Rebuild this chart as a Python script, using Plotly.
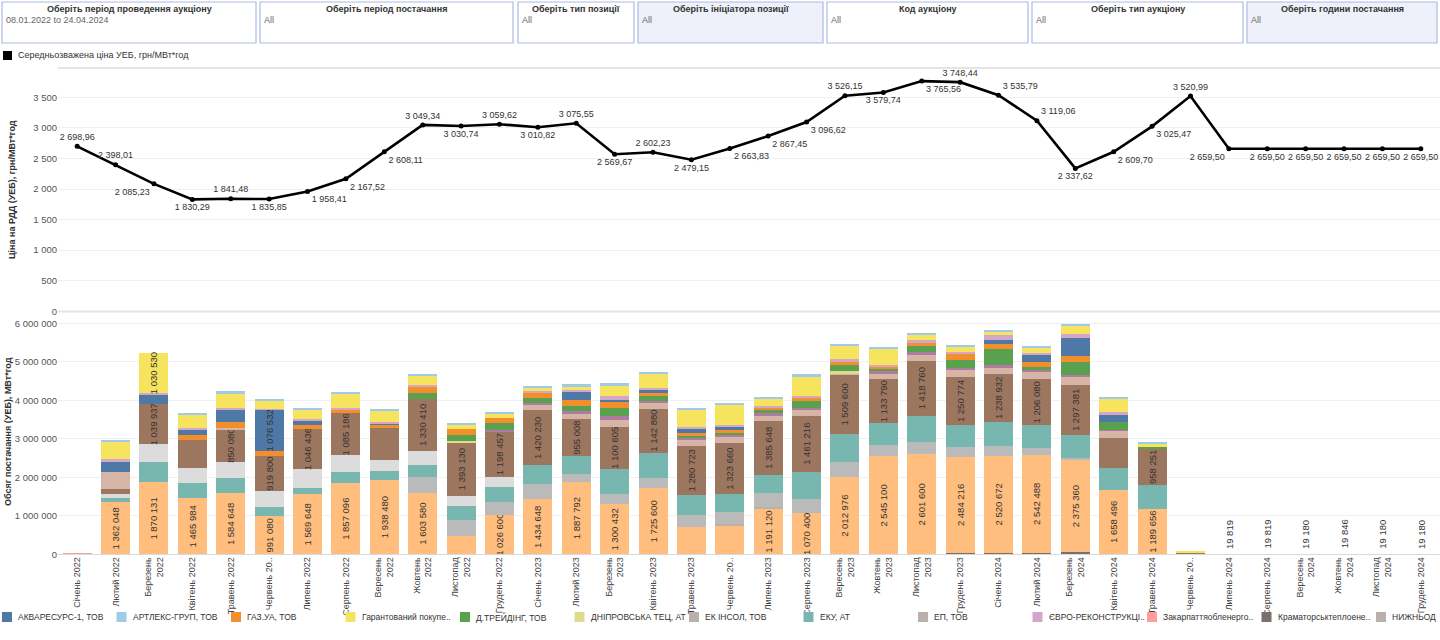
import plotly.graph_objects as go

# ---------------- data ----------------
month_names = ["Січень", "Лютий", "Березень", "Квітень", "Травень", "Червень",
               "Липень", "Серпень", "Вересень", "Жовтень", "Листопад", "Грудень"]
years = ["2022", "2023", "2024"]
months = [f"{m} {y}" for y in years for m in month_names]

tick_labels = [
    "Січень 2022", "Лютий 2022", "Березень<br>2022", "Квітень 2022", "Травень 2022", "Червень 20..",
    "Липень 2022", "Серпень 2022", "Вересень<br>2022", "Жовтень<br>2022", "Листопад<br>2022", "Грудень 2022",
    "Січень 2023", "Лютий 2023", "Березень<br>2023", "Квітень 2023", "Травень 2023", "Червень 20..",
    "Липень 2023", "Серпень 2023", "Вересень<br>2023", "Жовтень<br>2023", "Листопад<br>2023", "Грудень 2023",
    "Січень 2024", "Лютий 2024", "Березень<br>2024", "Квітень 2024", "Травень 2024", "Червень 20..",
    "Липень 2024", "Серпень 2024", "Вересень<br>2024", "Жовтень<br>2024", "Листопад<br>2024", "Грудень 2024",
]

price = [2698.96, 2398.01, 2085.23, 1830.29, 1841.48, 1835.85, 1958.41, 2167.52, 2608.11,
         3049.34, 3030.74, 3059.62, 3010.82, 3075.55, 2569.67, 2602.23, 2479.15, 2663.83,
         2867.45, 3096.62, 3526.15, 3579.74, 3765.56, 3748.44, 3535.79, 3119.06, 2337.62,
         2609.70, 3025.47, 3520.99, 2659.50, 2659.50, 2659.50, 2659.50, 2659.50, 2659.50]

# volumes, MWh (stack order bottom -> top)
vol_kramatorsk = [0]*23 + [43000, 43000, 43000, 69000, 17000] + [0]*8
vol_zakarpattia = [26000] + [0]*35
vol_peach = [0, 1362048, 1870131, 1465984, 1584648, 991080, 1569648, 1857096, 1938480, 1603580,
             480000, 1026600, 1434648, 1887792, 1300432, 1725600, 720000, 760000, 1191120, 1070400,
             2012976, 2545100, 2601600, 2484216, 2520672, 2542488, 2375360, 1658496, 1189656,
             0, 0, 0, 0, 0, 0, 0]
vol_ek_insol = [0]*17 + [35000, 43000] + [0]*17
vol_ep = [0, 0, 0, 0, 0, 0, 0, 0, 0, 400000, 415000, 346000, 398000, 190000, 277000, 268000,
          303000, 303000, 355000, 381000, 390000, 294000, 320000, 260000, 251000, 173000, 69000,
          0, 0, 0, 0, 0, 0, 0, 0, 0]
vol_eku = [0, 100000, 520000, 380000, 390000, 250000, 165000, 277000, 225000, 320000, 364000,
           372000, 485000, 476000, 640000, 650000, 520000, 468000, 485000, 693000, 736000, 571000,
           684000, 571000, 632000, 589000, 589000, 571000, 606000, 25000, 0, 0, 0, 0, 0, 0]
vol_lightgrey = [0, 120000, 470000, 390000, 425000, 400000, 476000, 440000, 295000, 372000,
                 260000, 260000] + [0]*24
vol_brown = [0, 110000, 1039937, 745000, 850080, 919800, 1046436, 1085186, 830000, 1330410,
             1393130, 1198457, 1420230, 955008, 1100605, 1142880, 1280723, 1323660, 1385648,
             1461216, 1509600, 1133790, 1418760, 1250774, 1238932, 1206080, 1297381, 788000,
             958251, 35000, 0, 0, 0, 0, 0, 0]
vol_pinkbrown = [0, 455000, 0, 0, 40000, 0, 0, 0, 0, 0, 0, 0, 156000, 165000, 173000, 156000,
                 156000, 173000, 156000, 156000, 60000, 165000, 182000, 182000, 165000, 190000,
                 208000, 182000, 0, 0, 19819, 19819, 19180, 19846, 19180, 19180]
vol_purple = [0]*11 + [35000, 35000, 43000, 95000, 35000, 43000, 35000, 43000, 43000, 0, 43000,
                       43000, 60000, 60000, 43000, 52000, 26000] + [0]*8
vol_dnipro = [0]*10 + [35000] + [0]*9 + [43000] + [0]*15
vol_dtrading = [0]*9 + [173000, 147000, 165000, 121000, 139000, 216000, 147000, 60000, 52000,
                        95000, 173000, 156000, 52000, 173000, 208000, 424000, 69000, 346000,
                        199000, 35000, 8000] + [0]*6
vol_gazua = [0, 0, 0, 120000, 140000, 120000, 112000, 120000, 60000, 173000, 156000, 140000,
             139000, 147000, 147000, 69000, 69000, 87000, 52000, 87000, 87000, 60000, 60000,
             156000, 121000, 147000, 147000] + [0]*9
vol_akvaresurs = [0, 277000, 242000, 150000, 345000, 1076532, 121000, 0, 60000, 0, 0, 0, 0,
                  225000, 60000, 95000, 121000, 87000, 0, 0, 0, 0, 0, 0, 104000, 182000,
                  476000, 208000] + [0]*8
vol_evro = [0, 50000, 52000, 25000, 35000, 25000, 26000, 26000, 26000, 35000, 0, 0, 52000,
            35000, 104000, 35000, 35000, 26000, 52000, 52000, 69000, 52000, 95000, 52000,
            139000, 52000, 87000, 43000] + [0]*8
vol_garant = [0, 460000, 1030530, 365000, 380000, 225000, 260000, 380000, 300000, 250000,
              121000, 104000, 95000, 112000, 260000, 381000, 459000, 540000, 200000, 520000,
              355000, 441000, 147000, 130000, 95000, 130000, 242000, 355000, 87000, 20000,
              0, 0, 0, 0, 0, 0]
vol_artleks = [0, 25000, 0, 25000, 40000, 35000, 35000, 43000, 26000, 26000, 35000, 52000,
               43000, 43000, 87000, 43000, 35000, 35000, 35000, 43000, 43000, 35000, 35000,
               35000, 26000, 43000, 35000, 35000, 26000] + [0]*7
vol_nyzhnodnistr = [0]*36

# ---------------- styles ----------------
FONT = "Liberation Sans, Arial, sans-serif"
W, H = 1440, 640


def px(x):
    return x / W


def py(y):
    return 1 - y / H


def fmt_int(v):
    return f"{int(round(v)):,}".replace(",", " ")


def fmt_price(v):
    return f"{v:,.2f}".replace(",", " ").replace(".", ",")


# (name, colour, values) in stack order bottom -> top
stack = [
    ("Краматорськтеплоенерго, ТОВ", "#79706e", vol_kramatorsk),
    ("Закарпаттяобленерго, ПрАТ", "#ff9d9a", vol_zakarpattia),
    ("НАЕК Енергоатом, ДП", "#ffbe7d", vol_peach),
    ("ЕК ІНСОЛ, ТОВ", "#bab0ac", vol_ek_insol),
    ("ЕП, ТОВ", "#bababa", vol_ep),
    ("ЕКУ, АТ", "#78b6b0", vol_eku),
    ("Центренерго, ПАТ", "#dcdcdc", vol_lightgrey),
    ("Укргідроенерго, ПрАТ", "#9d7660", vol_brown),
    ("Харківська ТЕЦ-5, АТ", "#d7b5a6", vol_pinkbrown),
    ("Сумська ТЕЦ, ТОВ", "#b07aa1", vol_purple),
    ("ДНІПРОВСЬКА ТЕЦ, АТ", "#dcdc8c", vol_dnipro),
    ("Д.ТРЕЙДІНГ, ТОВ", "#59a14f", vol_dtrading),
    ("ГАЗ.УА, ТОВ", "#f28e2b", vol_gazua),
    ("АКВАРЕСУРС-1, ТОВ", "#4e79a7", vol_akvaresurs),
    ("ЄВРО-РЕКОНСТРУКЦІЯ, ТОВ", "#d4a6c8", vol_evro),
    ("Гарантований покупець, ДП", "#f6e35e", vol_garant),
    ("АРТЛЕКС-ГРУП, ТОВ", "#a0cbe8", vol_artleks),
    ("НИЖНЬОДНІСТРОВСЬКА ГАЕС", "#bab0ac", vol_nyzhnodnistr),
]
colour_of = {n: c for n, c, _ in stack}

legend_items = [
    ("АКВАРЕСУРС-1, ТОВ", "АКВАРЕСУРС-1, ТОВ"),
    ("АРТЛЕКС-ГРУП, ТОВ", "АРТЛЕКС-ГРУП, ТОВ"),
    ("ГАЗ.УА, ТОВ", "ГАЗ.УА, ТОВ"),
    ("Гарантований покупець, ДП", "Гарантований покупе.."),
    ("Д.ТРЕЙДІНГ, ТОВ", "Д.ТРЕЙДІНГ, ТОВ"),
    ("ДНІПРОВСЬКА ТЕЦ, АТ", "ДНІПРОВСЬКА ТЕЦ, АТ"),
    ("ЕК ІНСОЛ, ТОВ", "ЕК ІНСОЛ, ТОВ"),
    ("ЕКУ, АТ", "ЕКУ, АТ"),
    ("ЕП, ТОВ", "ЕП, ТОВ"),
    ("ЄВРО-РЕКОНСТРУКЦІЯ, ТОВ", "ЄВРО-РЕКОНСТРУКЦІ.."),
    ("Закарпаттяобленерго, ПрАТ", "Закарпаттяобленерго.."),
    ("Краматорськтеплоенерго, ТОВ", "Краматорськтеплоене.."),
    ("НИЖНЬОДНІСТРОВСЬКА ГАЕС", "НИЖНЬОД"),
]
legend_swatch = {"ЕП, ТОВ": "#bab0ac"}

LABEL_MIN = 840000
LBL = 9.5

fig = go.Figure()

for name, col, vals in stack:
    fig.add_trace(go.Bar(
        x=months, y=vals, name=name, marker=dict(color=col, line=dict(width=0)),
        text=[fmt_int(v) if v >= LABEL_MIN else "" for v in vals],
        textposition="inside", insidetextanchor="middle", textangle=-90,
        textfont=dict(family=FONT, size=LBL, color="#333333"),
        xaxis="x", yaxis="y", showlegend=False,
        hovertemplate="%{x}<br>" + name + ": %{y:,d}<extra></extra>",
    ))

# single small bars labelled above
for i, v in enumerate(vol_pinkbrown):
    total = sum(s[2][i] for s in stack)
    if 0 < v and v == total:
        fig.add_annotation(x=months[i], y=v, xref="x", yref="y", text=fmt_int(v),
                           textangle=-90, showarrow=False, yanchor="bottom", yshift=3,
                           font=dict(family=FONT, size=LBL, color="#333333"))

price_label_pos = [
    "top center", "top center", "bottom left", "bottom center", "top center", "bottom center",
    "bottom right", "bottom right", "bottom right", "top center", "bottom center", "top center",
    "bottom center", "top center", "bottom center", "top center", "bottom center", "bottom right",
    "bottom right", "bottom right", "top center", "bottom center", "bottom right", "top center",
    "top right", "top right", "bottom center", "bottom right", "bottom right", "top center",
    "bottom left", "bottom center", "bottom center", "bottom center", "bottom center", "bottom center",
]

fig.add_trace(go.Scatter(
    x=months, y=price, mode="lines+markers+text", name="Середньозважена ціна УЕБ, грн/МВт*год",
    line=dict(color="#000000", width=2.6), marker=dict(color="#000000", size=5),
    text=[fmt_price(v) for v in price], textposition=price_label_pos,
    textfont=dict(family=FONT, size=9, color="#333333"),
    xaxis="x2", yaxis="y2", showlegend=False, cliponaxis=False,
    hovertemplate="%{x}<br>%{y:,.2f}<extra></extra>",
))

X_DOM = [px(58), 1.0]
X_RANGE = [-0.5, len(months) - 0.5]
fig.update_layout(
    width=W, height=H, margin=dict(l=0, r=0, t=0, b=0, autoexpand=False),
    paper_bgcolor="white", plot_bgcolor="white",
    barmode="stack", bargap=0.245, separators=", ",
    font=dict(family=FONT, size=10, color="#444444"),
    uniformtext=dict(minsize=LBL, mode="show"),
    xaxis=dict(domain=X_DOM, anchor="y", type="category", categoryorder="array",
               categoryarray=months, range=X_RANGE, tickmode="array", tickvals=months,
               ticktext=tick_labels, tickangle=-90, automargin=False,
               tickfont=dict(family=FONT, size=9, color="#444444"),
               showgrid=False, showline=False, ticks="", zeroline=False),
    yaxis=dict(domain=[py(554.5), py(311.7)], anchor="x", range=[0, 6300000], dtick=1000000,
               tickformat=",d", tickfont=dict(family=FONT, size=9.5, color="#555555"),
               automargin=False,
               showgrid=True, gridcolor="#f0f0f0", gridwidth=1, zeroline=False, ticks=""),
    xaxis2=dict(domain=X_DOM, anchor="y2", matches="x", range=X_RANGE, showticklabels=False,
                automargin=False,
                showgrid=False, showline=False, ticks="", zeroline=False),
    yaxis2=dict(domain=[py(311.3), py(68)], anchor="x2", range=[0, 3980], dtick=500,
                tickformat=",d", tickfont=dict(family=FONT, size=9.5, color="#555555"),
                automargin=False,
                showgrid=True, gridcolor="#f0f0f0", gridwidth=1, zeroline=False, ticks=""),
)

shapes = []
annotations = []

# pane borders
for yb, col, wd in [(68, "#e4e4e4", 2), (311.5, "#e4e4e4", 2), (554.5, "#d9d9d9", 1)]:
    shapes.append(dict(type="line", xref="paper", yref="paper", x0=px(58), x1=1.0,
                       y0=py(yb), y1=py(yb), line=dict(color=col, width=wd), layer="above"))

# filter boxes
filters = [
    ("Оберіть період проведення аукціону", "08.01.2022 to 24.04.2024", 2, 256, False),
    ("Оберіть період постачання", "All", 260, 513, False),
    ("Оберіть тип позиції", "All", 518, 634, False),
    ("Оберіть ініціатора позиції", "All", 638, 823, True),
    ("Код аукціону", "All", 827, 1028, False),
    ("Оберіть тип аукціону", "All", 1032, 1243, False),
    ("Оберіть години постачання", "All", 1247, 1437, True),
]
for title, val, x0, x1, shaded in filters:
    shapes.append(dict(type="rect", xref="paper", yref="paper", x0=px(x0), x1=px(x1),
                       y0=py(43), y1=py(2), line=dict(color="#aebbe4", width=1.2),
                       fillcolor="#eef1f9" if shaded else "#ffffff", layer="below"))
    annotations.append(dict(xref="paper", yref="paper", x=px((x0 + x1) / 2), y=py(9),
                            text=f"<b>{title}</b>", showarrow=False, xanchor="center",
                            yanchor="middle", font=dict(family=FONT, size=9, color="#333333")))
    annotations.append(dict(xref="paper", yref="paper", x=px(x0 + 2), y=py(20),
                            text=val, showarrow=False, xanchor="left", yanchor="middle",
                            font=dict(family=FONT, size=9, color="#666666")))

# top legend
shapes.append(dict(type="rect", xref="paper", yref="paper", x0=px(3), x1=px(12),
                   y0=py(60), y1=py(51), fillcolor="#000000", line=dict(width=0)))
annotations.append(dict(xref="paper", yref="paper", x=px(16), y=py(55.5),
                        text="Середньозважена ціна УЕБ, грн/МВт*год", showarrow=False,
                        xanchor="left", yanchor="middle",
                        font=dict(family=FONT, size=9, color="#333333")))

# axis titles
annotations.append(dict(xref="paper", yref="paper", x=px(12), y=py(190),
                        text="<b>Ціна на РДД (УЕБ), грн/МВт*год</b>", textangle=-90,
                        showarrow=False, xanchor="center", yanchor="middle",
                        font=dict(family=FONT, size=9, color="#333333")))
annotations.append(dict(xref="paper", yref="paper", x=px(8), y=py(432),
                        text="<b>Обсяг постачання (УЕБ), МВт*год</b>", textangle=-90,
                        showarrow=False, xanchor="center", yanchor="middle",
                        font=dict(family=FONT, size=9, color="#333333")))

# bottom legend
for k, (name, label) in enumerate(legend_items):
    x0 = 2 + k * 114.5
    col = legend_swatch.get(name, colour_of[name])
    shapes.append(dict(type="rect", xref="paper", yref="paper", x0=px(x0), x1=px(x0 + 10),
                       y0=py(622), y1=py(612), fillcolor=col, line=dict(width=0)))
    annotations.append(dict(xref="paper", yref="paper", x=px(x0 + 14), y=py(617), text=label,
                            showarrow=False, xanchor="left", yanchor="middle",
                            font=dict(family=FONT, size=8.5, color="#333333")))

fig.update_layout(shapes=shapes, annotations=list(fig.layout.annotations) + annotations)

fig.write_html("out.html", include_plotlyjs=True, config={"displayModeBar": False},
               post_script="document.body.style.margin='0';document.body.style.overflow='hidden';")
